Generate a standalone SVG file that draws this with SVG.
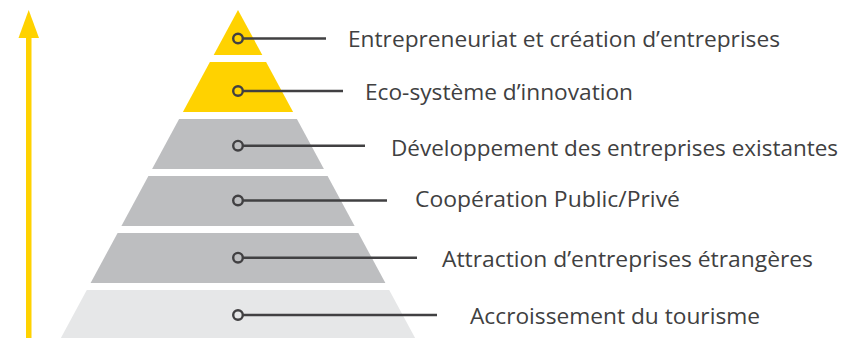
<svg xmlns="http://www.w3.org/2000/svg" width="843" height="338" viewBox="0 0 843 338">
  <style>
    .yellow { fill: #FFD200; }
    .grey { fill: #BDBEC0; }
    .light { fill: #E6E7E8; }
    .dot { fill: none; stroke: #414042; stroke-width: 2.4; }
    .lead { stroke: #414042; stroke-width: 2.6; fill: none; }
    .label { font-family: "Open Sans", "Liberation Sans", sans-serif; font-size: 22px; fill: #404041; }
  </style>

  <!-- upward progression arrow -->
  <g id="arrow">
    <rect x="26" y="36" width="5.5" height="304" fill="#FFD200"/>
    <polygon points="28.7,10 18.5,38 39,38" fill="#FFD200"/>
  </g>

  <!-- pyramid tiers, top to bottom -->
  <g id="tier-1">
    <polygon class="yellow" points="238,10 262.3,55 213.7,55"/>
    <circle class="dot" cx="238" cy="38.5" r="4.8"/>
    <text class="label" x="348" y="47" textLength="432" lengthAdjust="spacingAndGlyphs">Entrepreneuriat et création d’entreprises</text>
  </g>
  <g id="tier-2">
    <polygon class="yellow" points="209.9,62 266.1,62 293.1,112 182.9,112"/>
    <circle class="dot" cx="238" cy="91" r="4.8"/>
    <text class="label" x="365" y="100" textLength="268" lengthAdjust="spacingAndGlyphs">Eco-système d’innovation</text>
  </g>
  <g id="tier-3">
    <polygon class="grey" points="179.1,119 296.9,119 323.9,169 152.1,169"/>
    <circle class="dot" cx="238" cy="145.7" r="4.8"/>
    <text class="label" x="391" y="155.7" textLength="447" lengthAdjust="spacingAndGlyphs">Développement des entreprises existantes</text>
  </g>
  <g id="tier-4">
    <polygon class="grey" points="148.4,176 327.6,176 354.6,226 121.4,226"/>
    <circle class="dot" cx="238" cy="200.5" r="4.8"/>
    <text class="label" x="415" y="207" textLength="265" lengthAdjust="spacingAndGlyphs">Coopération Public/Privé</text>
  </g>
  <g id="tier-5">
    <polygon class="grey" points="117.6,233 358.4,233 385.4,283 90.6,283"/>
    <circle class="dot" cx="238" cy="257.7" r="4.8"/>
    <text class="label" x="442" y="266.7" textLength="371" lengthAdjust="spacingAndGlyphs">Attraction d’entreprises étrangères</text>
  </g>
  <g id="tier-6">
    <polygon class="light" points="86.8,290 389.2,290 416.2,340 59.8,340"/>
    <circle class="dot" cx="238" cy="315" r="4.8"/>
    <text class="label" x="470" y="324.3" textLength="290" lengthAdjust="spacingAndGlyphs">Accroissement du tourisme</text>
  </g>

  <!-- leader lines from tier markers to labels -->
  <g id="connectors">
    <line class="lead" x1="242.8" y1="38.5" x2="326" y2="38.5"/>
    <line class="lead" x1="242.8" y1="91" x2="343" y2="91"/>
    <line class="lead" x1="242.8" y1="145.7" x2="365" y2="145.7"/>
    <line class="lead" x1="242.8" y1="200.5" x2="387" y2="200.5"/>
    <line class="lead" x1="242.8" y1="257.7" x2="417" y2="257.7"/>
    <line class="lead" x1="242.8" y1="315" x2="437" y2="315"/>
  </g>
</svg>
